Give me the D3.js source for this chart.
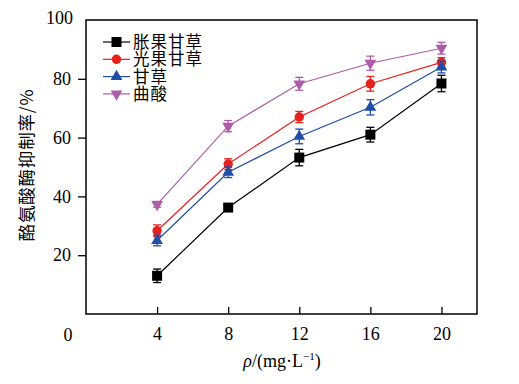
<!DOCTYPE html>
<html>
<head>
<meta charset="utf-8">
<script src="https://cdn.jsdelivr.net/npm/d3@7"></script>
<style>
body { margin: 0; background: #fff; }
svg text { font-family: "Liberation Serif", "DejaVu Serif", serif; }
.cjk { font-family: "Noto Sans CJK SC", "Noto Sans", sans-serif; }
</style>
</head>
<body>
<div id="chart"></div>
<script>
var width = 519,
    height = 384;

// data
var conc = [4, 8, 12, 16, 20];
var names = ["胀果甘草", "光果甘草", "甘草", "曲酸"];
var zhangguo = [13.0, 36.2, 53.2, 61.0, 78.4];
var zhangguoErr = [2.3, 1.0, 2.8, 2.5, 2.8];
var guangguo = [28.3, 51.0, 67.0, 78.3, 85.6];
var guangguoErr = [2.0, 1.8, 1.9, 2.5, 1.6];
var gancao = [25.0, 48.2, 60.4, 70.3, 84.0];
var gancaoErr = [1.8, 1.8, 2.5, 2.6, 2.0];
var qusuan = [37.3, 63.9, 78.3, 85.3, 90.4];
var qusuanErr = [1.0, 1.9, 2.2, 2.4, 2.0];
var xTicks = [4, 8, 12, 16, 20];
var yTicks = [20, 40, 60, 80];

var colors = ["#000000", "#e8201c", "#1e4ea6", "#ad5ca9"];
var symbols = [d3.symbolSquare, d3.symbolCircle, d3.symbolTriangle, d3.symbolTriangle];
var seriesVals = [zhangguo, guangguo, gancao, qusuan];
var seriesErr = [zhangguoErr, guangguoErr, gancaoErr, qusuanErr];

var series = names.map(function (n, i) {
    return {
        name: n, color: colors[i], symbol: symbols[i], flip: i == 3,
        points: conc.map(function (c, j) {
            return { x: c, y: seriesVals[i][j], e: seriesErr[i][j] };
        })
    };
});

var pLeft = 86, pRight = 477, pTop = 20, pBottom = 314;

var x = d3.scaleLinear().domain([0, 22]).range([pLeft, pRight]);
var y = d3.scaleLinear().domain([0, 100]).range([pBottom, pTop]);

var svg = d3.select("#chart").append("svg")
    .attr("width", width)
    .attr("height", height);

// frame
svg.append("rect")
    .attr("x", pLeft)
    .attr("y", pTop)
    .attr("width", pRight - pLeft)
    .attr("height", pBottom - pTop)
    .attr("fill", "none")
    .attr("stroke", "black")
    .attr("stroke-width", 1.5);

// x axis, ticks pointing in
var xAxis = svg.append("g")
    .attr("transform", "translate(0," + pBottom + ")")
    .call(d3.axisBottom(x).tickValues(xTicks).tickSize(-7).tickPadding(13).tickSizeOuter(0));
xAxis.select(".domain").remove();

// y axis, ticks pointing out
var yAxis = svg.append("g")
    .attr("transform", "translate(" + pLeft + ",0)")
    .call(d3.axisLeft(y).tickValues(yTicks).tickSize(8).tickPadding(7).tickSizeOuter(0));
yAxis.select(".domain").remove();

svg.selectAll(".tick line").attr("stroke", "black").attr("stroke-width", 1.3);
svg.selectAll(".tick text")
    .attr("fill", "black")
    .style("font-family", "'Liberation Serif', serif")
    .style("font-size", "18px");

// the lone "0" and "100" labels
svg.append("text")
    .attr("x", x(0) - 18)
    .attr("y", pBottom + 27)
    .attr("text-anchor", "middle")
    .attr("font-size", 18)
    .text("0");
svg.append("text")
    .attr("x", pLeft - 13)
    .attr("y", y(100) + 4)
    .attr("text-anchor", "end")
    .attr("font-size", 18)
    .text("100");

// lines
var line = d3.line()
    .x(function (d) { return x(d.x); })
    .y(function (d) { return y(d.y); });

var groups = svg.selectAll(".series")
    .data(series)
    .enter().append("g")
    .attr("class", "series");

groups.append("path")
    .attr("d", function (d) { return line(d.points); })
    .attr("fill", "none")
    .attr("stroke", function (d) { return d.color; })
    .attr("stroke-width", 1.2);

// error bars
var eb = groups.selectAll(".err")
    .data(function (d) { return d.points.map(function (p) { return { p: p, c: d.color }; }); })
    .enter().append("g")
    .attr("class", "err")
    .attr("stroke", function (d) { return d.c; })
    .attr("stroke-width", 1.3);
eb.append("line")
    .attr("x1", function (d) { return x(d.p.x); })
    .attr("x2", function (d) { return x(d.p.x); })
    .attr("y1", function (d) { return y(d.p.y - d.p.e); })
    .attr("y2", function (d) { return y(d.p.y + d.p.e); });
eb.selectAll(".cap")
    .data(function (d) { return [d.p.y - d.p.e, d.p.y + d.p.e].map(function (v) { return { x: d.p.x, v: v }; }); })
    .enter().append("line")
    .attr("x1", function (d) { return x(d.x) - 4; })
    .attr("x2", function (d) { return x(d.x) + 4; })
    .attr("y1", function (d) { return y(d.v); })
    .attr("y2", function (d) { return y(d.v); });

// markers
function markerPath(s) {
    var size = s.symbol === d3.symbolCircle ? 70 : (s.symbol === d3.symbolSquare ? 100 : 60);
    return d3.symbol().type(s.symbol).size(size)();
}
groups.each(function (s) {
    d3.select(this).selectAll(".mk")
        .data(s.points)
        .enter().append("path")
        .attr("d", markerPath(s))
        .attr("fill", s.color)
        .attr("transform", function (d) {
            return "translate(" + x(d.x) + "," + y(d.y) + ")" + (s.flip ? " rotate(180)" : "");
        });
});

// legend
var legend = svg.selectAll(".legend")
    .data(series)
    .enter().append("g")
    .attr("class", "legend")
    .attr("transform", function (d, i) { return "translate(103," + (42 + i * 17.3) + ")"; });
legend.append("line")
    .attr("x1", 0).attr("x2", 27)
    .attr("stroke", function (d) { return d.color; })
    .attr("stroke-width", 1.2);
legend.append("path")
    .attr("d", function (d) { return markerPath(d); })
    .attr("fill", function (d) { return d.color; })
    .attr("transform", function (d) { return "translate(13.5,0)" + (d.flip ? " rotate(180)" : ""); });
legend.append("text")
    .attr("class", "cjk")
    .attr("x", 30)
    .attr("y", 6)
    .attr("font-size", 16.5)
    .attr("letter-spacing", 1)
    .text(function (d) { return d.name; });

// axis titles
svg.append("text")
    .attr("class", "cjk")
    .attr("transform", "translate(33,165) rotate(-90)")
    .attr("text-anchor", "middle")
    .attr("font-size", 17.5)
    .attr("letter-spacing", 0.8)
    .text("酪氨酸酶抑制率/%");

var xt = svg.append("text")
    .attr("x", 282)
    .attr("y", 367)
    .attr("text-anchor", "middle")
    .attr("font-size", 18);
xt.append("tspan").attr("font-style", "italic").text("ρ");
xt.append("tspan").text("/(mg·L");
xt.append("tspan").attr("dy", -7).attr("font-size", 11).text("−1");
xt.append("tspan").attr("dy", 7).text(")");
</script>
</body>
</html>
